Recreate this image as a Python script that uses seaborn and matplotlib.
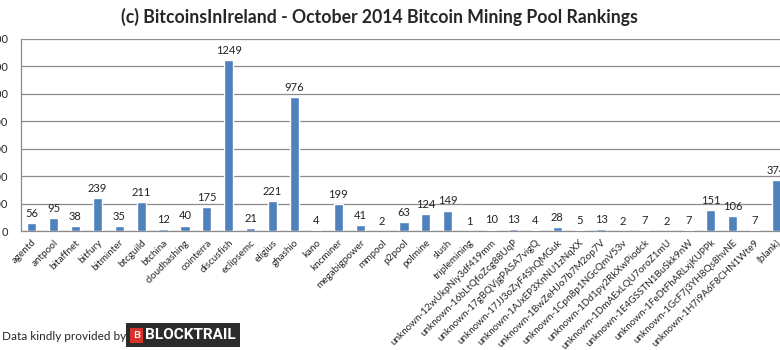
import matplotlib
matplotlib.use("Agg")
import matplotlib.pyplot as plt
import matplotlib.patches as mpatches
import seaborn as sns
import pandas as pd
import numpy as np

# ---------- dados ----------
pools = ['agentd', 'antpool', 'bitaffnet', 'bitfury', 'bitminter', 'btcguild',
         'btchina', 'cloudhashing', 'cointerra', 'discusfish', 'eclipsemc',
         'eligius', 'ghashio', 'kano', 'kncminer', 'megabigpower', 'mmpool',
         'p2pool', 'polmine', 'slush', 'triplemining',
         'unknown-12wUkpNiy3df419mm', 'unknown-16bLtQfoZcg88UqP',
         'unknown-17gBQVjgPASA7vigQ', 'unknown-17JJ3oZyF4ShQMGuk',
         'unknown-1AJxEP3XnNU1zNqXX', 'unknown-1BwZeHJo7b7M2op7V',
         'unknown-1Cpn8p1NGcQmV53v', 'unknown-1Dd1py2RkXwPiodck',
         'unknown-1DmAExLQU7oroZ1mU', 'unknown-1E4GSSTN1BuSkk9nW',
         'unknown-1FeDtFhARLxjKUPPk', 'unknown-1GcF7j3YH8Qs8hvNE',
         'unknown-1H7i9A6F8CHN1Wte9', '(blank)']
blocks = [56, 95, 38, 239, 35, 211, 12, 40, 175, 1249, 21, 221, 976, 4, 199,
          41, 2, 63, 124, 149, 1, 10, 13, 4, 28, 5, 13, 2, 7, 2, 7, 151, 106,
          7, 374]
y_ticks = [0, 200, 400, 600, 800, 1000, 1200, 1400]

df = pd.DataFrame({'Pool': pools, 'Blocks': blocks})

sns.set_style('white')
plt.rcParams['font.family'] = ['Lato', 'DejaVu Sans']

fig = plt.figure(figsize=(7.8, 3.5), dpi=100)
ax = fig.add_axes([20.7 / 780, 0.34, 766.5 / 780, 0.5486])

sns.barplot(data=df, x='Pool', y='Blocks', color='#4F81BD', width=0.42,
            saturation=1, ax=ax, zorder=3)
ax.bar_label(ax.containers[0], labels=[str(v) for v in blocks],
             padding=3, fontsize=8, color='#222222')

ax.set_xlim(-0.5, len(pools) - 0.5)
ax.set_ylim(0, 1400)
ax.set_yticks(y_ticks)
ax.set_yticklabels([str(t) for t in y_ticks], fontsize=8)
ax.yaxis.grid(True, color='#8c8c8c', linewidth=0.9, zorder=0)
ax.set_axisbelow(True)
ax.set_xlabel('')
ax.set_ylabel('')

for s in ['top', 'right']:
    ax.spines[s].set_visible(False)
for s in ['left', 'bottom']:
    ax.spines[s].set_color('#8c8c8c')
    ax.spines[s].set_linewidth(0.9)

ax.set_xticks(range(len(pools)))
ax.set_xticklabels(pools, rotation=45, ha='right', rotation_mode='anchor',
                   fontsize=7.1)
ax.tick_params(axis='x', which='major', length=0, pad=5)
ax.set_xticks(np.arange(-0.5, len(pools), 1), minor=True)
ax.tick_params(axis='x', which='minor', length=4, color='#8c8c8c', width=0.9)
ax.tick_params(axis='y', length=0, pad=9)

fig.text(0.487, 0.953, '(c) BitcoinsInIreland - October 2014 Bitcoin Mining Pool Rankings',
         ha='center', va='center', fontsize=12.7, fontweight='bold')

# rodapé com logo
fig.text(2 / 780, 1 - 336 / 350, 'Data kindly provided by', ha='left',
         va='center', fontsize=8.5)
fig.patches.append(mpatches.Rectangle((126 / 780, 1 - 347 / 350), 114 / 780,
                                      24 / 350, transform=fig.transFigure,
                                      facecolor='#2b2b2b', edgecolor='none'))
fig.patches.append(mpatches.Rectangle((130 / 780, 1 - 343 / 350), 13 / 780,
                                      15 / 350, transform=fig.transFigure,
                                      facecolor='#d8332a', edgecolor='none'))
fig.text(136.5 / 780, 1 - 335.5 / 350, 'B', ha='center', va='center',
         fontsize=7.5, fontweight='bold', color='white')
fig.text(190 / 780, 1 - 335 / 350, 'BLOCKTRAIL', ha='center', va='center',
         fontsize=11, fontweight='bold', color='white',
         family=['Roboto', 'DejaVu Sans'])

fig.savefig('out.png', dpi=100)
